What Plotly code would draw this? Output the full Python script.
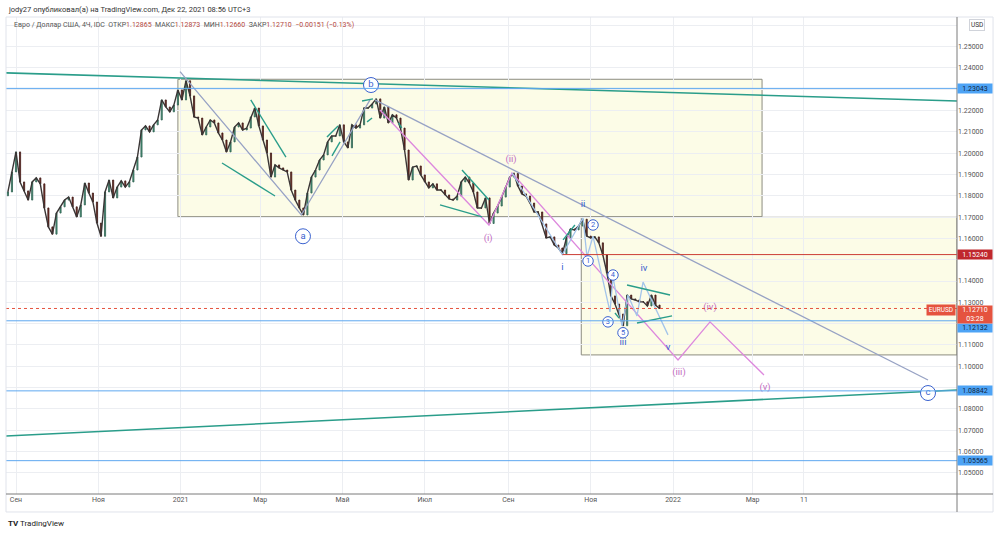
import plotly.graph_objects as go
import pandas as pd

# ---------------- price data (3-day candles) -------------
candle_start = "2020-08-26"
candle_step = "3D"
first_open = 1.1800
closes = [
    1.1818, 1.1912, 1.2006, 1.1865, 1.1823, 1.1780, 1.1865, 1.1884, 1.1856, 1.1743,
    1.1654, 1.1620, 1.1719, 1.1748, 1.1780, 1.1794, 1.1748, 1.1701, 1.1757, 1.1860,
    1.1813, 1.1771, 1.1672, 1.1610, 1.1818, 1.1874, 1.1790, 1.1841, 1.1870, 1.1841,
    1.1865, 1.1921, 1.1982, 1.2109, 1.2128, 1.2100, 1.2133, 1.2156, 1.2250, 1.2217,
    1.2194, 1.2226, 1.2297, 1.2250, 1.2340, 1.2269, 1.2170, 1.2165, 1.2086, 1.2123,
    1.2156, 1.2142, 1.2095, 1.2062, 1.2006, 1.2053, 1.2123, 1.2142, 1.2109, 1.2118,
    1.2170, 1.2212, 1.2128, 1.2062, 1.2001, 1.1888, 1.1945, 1.1931, 1.1921, 1.1912,
    1.1827, 1.1780, 1.1743, 1.1710, 1.1813, 1.1888, 1.1921, 1.1968, 1.1992, 1.2053,
    1.2081, 1.2081, 1.2133, 1.2053, 1.2025, 1.2133, 1.2118, 1.2133, 1.2212, 1.2212,
    1.2231, 1.2255, 1.2165, 1.2217, 1.2142, 1.2180, 1.2165, 1.2118, 1.2015, 1.1874,
    1.1935, 1.1940, 1.1898, 1.1865, 1.1837, 1.1856, 1.1827, 1.1827, 1.1804, 1.1785,
    1.1780, 1.1799, 1.1865, 1.1888, 1.1860, 1.1818, 1.1743, 1.1743, 1.1790, 1.1670,
    1.1719, 1.1752, 1.1794, 1.1841, 1.1888, 1.1905, 1.1846, 1.1809, 1.1799, 1.1766,
    1.1724, 1.1724, 1.1668, 1.1602, 1.1607, 1.1569, 1.1555, 1.1528, 1.1602, 1.1644,
    1.1640, 1.1658, 1.1690, 1.1611, 1.1602, 1.1607, 1.1579, 1.1522, 1.1438, 1.1330,
    1.1292, 1.1245, 1.1190, 1.1334, 1.1316, 1.1311, 1.1302, 1.1302, 1.1283, 1.1334,
    1.1287, 1.1271,
]

# ---------------- axis labels ----------------
x_range = ["2020-08-24 14:00", "2022-07-30 12:00"]
y_range = [1.04, 1.26394]
x_tick_dates = ["2020-09-01", "2020-11-01", "2021-01-01", "2021-03-01", "2021-05-01",
                "2021-07-01", "2021-09-01", "2021-11-01", "2022-01-01", "2022-03-01",
                "2022-04-08"]
x_tick_text = ["Сен", "Ноя", "2021", "Мар", "Май", "Июл", "Сен", "Ноя", "2022", "Мар", "11"]
y_tick_vals = [1.05, 1.06, 1.07, 1.08, 1.09, 1.10, 1.11, 1.12, 1.13, 1.14, 1.15, 1.16,
               1.17, 1.18, 1.19, 1.20, 1.21, 1.22, 1.23, 1.24, 1.25, 1.26]
# tick labels that sit under a price-axis box in the reference are left blank
y_hidden_labels = [1.09, 1.12, 1.15, 1.23, 1.26]

# ---------------- drawings (date / price anchors) ----------------
teal_top_x = ["2020-08-24 14:00", "2022-07-30 12:00"]
teal_top_y = [1.2377, 1.2245]
teal_bot_x = ["2020-08-24 14:00", "2022-07-30 12:00"]
teal_bot_y = [1.0672, 1.0888]

blue_levels = [1.23043, 1.12132, 1.08842, 1.05565]
red_level = 1.15240
red_level_start = "2021-10-11"
last_price = 1.12710

rect_big = dict(x0="2020-12-30", x1="2022-03-08", y0=1.1702, y1=1.2347)
rect_small = dict(x0="2021-10-25", x1="2022-07-30 12:00", y0=1.1053, y1=1.1699)

grey_ab_x = ["2020-12-31 14:00", "2021-03-31 12:00", "2021-05-21 10:00"]
grey_ab_y = [1.2383, 1.1710, 1.2250]
grey_bc_x = ["2021-05-25 02:00", "2022-07-09"]
grey_bc_y = [1.2250, 1.0935]

pink_x = ["2021-05-28 19:00", "2021-08-17 14:00", "2021-09-03 15:00", "2022-01-04 17:00",
          "2022-01-28 10:00", "2022-03-09 10:00"]
pink_y = [1.2203, 1.1663, 1.1907, 1.1029, 1.1208, 1.0959]

sub_x = ["2021-09-03 15:00", "2021-10-11", "2021-10-26 07:00", "2021-10-29 05:00",
         "2021-11-02 17:00", "2021-11-15 07:00", "2021-11-17 12:00", "2021-11-24 05:00",
         "2021-11-28 14:00", "2021-12-05 07:00", "2021-12-09 19:00", "2021-12-28 07:00"]
sub_y = [1.1907, 1.1524, 1.1696, 1.1513, 1.1610, 1.1255, 1.1419, 1.1189,
         1.1334, 1.1236, 1.1395, 1.1147]

teal_segments = [
    (["2021-02-22", "2021-03-20 02:00"], [1.2250, 1.1982]),
    (["2021-01-31 17:00", "2021-03-12"], [1.1954, 1.1799]),
    (["2021-04-19 12:00", "2021-04-27 17:00"], [1.2076, 1.2128]),
    (["2021-04-23 05:00", "2021-04-29 05:00"], [1.1987, 1.2053]),
    (["2021-05-15 12:00", "2021-05-23 14:00"], [1.2245, 1.2255]),
    (["2021-05-19 05:00", "2021-05-22 22:00"], [1.2147, 1.2165]),
    (["2021-06-11 14:00", "2021-06-13 22:00"], [1.2142, 1.2118]),
    (["2021-07-28 14:00", "2021-08-17 14:00"], [1.1921, 1.1780]),
    (["2021-07-12 07:00", "2021-08-12 10:00"], [1.1757, 1.1701]),
    (["2021-11-27 22:00", "2021-12-29 19:00"], [1.1381, 1.1334]),
    (["2021-12-05 07:00", "2021-12-31 07:00"], [1.1203, 1.1236]),
    (["2021-11-19", "2021-11-22"], [1.1250, 1.1226]),
    (["2021-10-11 12:00", "2021-10-20 07:00"], [1.1593, 1.1663]),
]

circ_letters = ["a", "b", "c"]
circ_letters_x = ["2021-04-01 17:00", "2021-05-22 03:00", "2022-07-09"]
circ_letters_y = [1.1610, 1.2320, 1.0874]

circ_digits = ["1", "2", "3", "4", "5"]
circ_digits_x = ["2021-10-30", "2021-11-02 17:00", "2021-11-13 19:00", "2021-11-17 12:00",
                 "2021-11-24 22:00"]
circ_digits_y = [1.1494, 1.1663, 1.1208, 1.1428, 1.1157]

blue_roman = ["i", "ii", "iii", "iv", "v"]
blue_roman_x = ["2021-10-11", "2021-10-26 07:00", "2021-11-24 22:00", "2021-12-10 12:00",
                "2021-12-28 07:00"]
blue_roman_y = [1.1461, 1.1757, 1.1110, 1.1456, 1.1086]

pink_labels = ["(i)", "(ii)", "(iii)", "(iv)", "(v)"]
pink_labels_x = ["2021-08-16 22:00", "2021-09-02 22:00", "2022-01-05 10:00",
                 "2022-01-28 10:00", "2022-03-10 05:00"]
pink_labels_y = [1.1597, 1.1968, 1.0968, 1.1273, 1.0898]

# ---------------- colours ----------------
TEAL = "#2a9d8a"
GREY_LINE = "#97a2c4"
PINK = "#dd88dd"
LBLUE = "#a3c4ea"
BLUE_TXT = "#3a62cf"
HBLUE = "#5ea8f0"
RED = "#cc3d35"
FONT = "Roboto"

dates = pd.date_range(candle_start, periods=len(closes), freq=candle_step)
opens = [first_open] + closes[:-1]
highs = [max(o, c) for o, c in zip(opens, closes)]
lows = [min(o, c) for o, c in zip(opens, closes)]

fig = go.Figure()

shapes = []
for r in (rect_big, rect_small):
    shapes.append(dict(type="rect", xref="x", yref="y", layer="below",
                       fillcolor="rgba(245,245,180,0.32)",
                       line=dict(color="#8c8c80", width=1), **r))
for lv in blue_levels:
    shapes.append(dict(type="line", xref="paper", yref="y", x0=0, x1=1, y0=lv, y1=lv,
                       line=dict(color=HBLUE, width=1)))
shapes.append(dict(type="line", xref="x", yref="y", x0=red_level_start, x1=x_range[1],
                   y0=red_level, y1=red_level, line=dict(color=RED, width=1)))
shapes.append(dict(type="line", xref="paper", yref="y", x0=0, x1=1, y0=last_price,
                   y1=last_price, line=dict(color="#e5533f", width=1, dash="dot")))
shapes.append(dict(type="rect", xref="paper", yref="paper", x0=0, x1=1.0379,
                   y0=-0.0377, y1=1.0, line=dict(color="#e0e3eb", width=1)))
shapes.append(dict(type="line", xref="paper", yref="paper", x0=1, x1=1,
                   y0=-0.0377, y1=1.0, line=dict(color="#7a7a7a", width=1)))
shapes.append(dict(type="line", xref="paper", yref="paper", x0=0, x1=1.0379,
                   y0=0, y1=0, line=dict(color="#7a7a7a", width=1)))


def line_trace(x, y, color, width=1.3):
    fig.add_trace(go.Scatter(x=x, y=y, mode="lines", line=dict(color=color, width=width),
                             hoverinfo="skip", showlegend=False))


line_trace(teal_top_x, teal_top_y, TEAL, 1.6)
line_trace(teal_bot_x, teal_bot_y, TEAL, 1.6)

# dense price path (thin dark line through the closes) + narrow candle bodies
line_trace(list(dates), closes, "#3a3535", 1.4)
fig.add_trace(go.Candlestick(
    x=dates, open=opens, high=highs, low=lows, close=closes,
    increasing=dict(line=dict(color="#2f6150", width=0.8), fillcolor="#4f9f80"),
    decreasing=dict(line=dict(color="#3d1a17", width=0.8), fillcolor="#7e2a22"),
    whiskerwidth=0, showlegend=False, hoverinfo="skip"))

line_trace(grey_ab_x, grey_ab_y, GREY_LINE)
line_trace(grey_bc_x, grey_bc_y, GREY_LINE)
line_trace(pink_x, pink_y, PINK)
line_trace(sub_x, sub_y, LBLUE)
for sx, sy in teal_segments:
    line_trace(sx, sy, TEAL, 1.4)

fig.add_trace(go.Scatter(x=circ_letters_x, y=circ_letters_y, mode="markers+text",
                         text=circ_letters, textposition="middle center",
                         marker=dict(size=15, color="white", line=dict(color=BLUE_TXT, width=1)),
                         textfont=dict(color=BLUE_TXT, size=9.5, family=FONT),
                         hoverinfo="skip", showlegend=False))
fig.add_trace(go.Scatter(x=circ_digits_x, y=circ_digits_y, mode="markers+text",
                         text=circ_digits, textposition="middle center",
                         marker=dict(size=10.5, color="white", line=dict(color=BLUE_TXT, width=1)),
                         textfont=dict(color=BLUE_TXT, size=7.5, family=FONT),
                         hoverinfo="skip", showlegend=False))
fig.add_trace(go.Scatter(x=blue_roman_x, y=blue_roman_y, mode="text", text=blue_roman,
                         textposition="middle center",
                         textfont=dict(color=BLUE_TXT, size=9.5, family=FONT),
                         hoverinfo="skip", showlegend=False))
fig.add_trace(go.Scatter(x=pink_labels_x, y=pink_labels_y, mode="text", text=pink_labels,
                         textposition="middle center",
                         textfont=dict(color="#c36ec3", size=9.5, family=FONT),
                         hoverinfo="skip", showlegend=False))

annotations = []
annotations.append(dict(xref="paper", yref="paper", x=0, y=1.0147, xanchor="left",
                        yanchor="middle", showarrow=False,
                        text="jody27 опубликовал(а) на TradingView.com, Дек 22, 2021 08:56 UTC+3",
                        font=dict(size=7.5, color="#333333", family=FONT)))
vc = "#b4473c"
legend_txt = ("Евро / Доллар США, 4Ч, IDC  ОТКР<span style='color:%s'>1.12865</span>  "
              "МАКС<span style='color:%s'>1.12873</span>  МИН<span style='color:%s'>1.12660</span>  "
              "ЗАКР<span style='color:%s'>1.12710</span>  <span style='color:%s'>−0.00151 (−0.13%%)</span>"
              % (vc, vc, vc, vc, vc))
annotations.append(dict(xref="paper", yref="paper", x=0.0063, y=0.9822, xanchor="left",
                        yanchor="middle", showarrow=False, text=legend_txt,
                        font=dict(size=7, color="#555555", family=FONT)))


def price_box(y, text, bg, fg, yshift=0, height=9):
    annotations.append(dict(xref="paper", yref="y", x=1.0189, y=y, xanchor="center",
                            yanchor="middle", showarrow=False, text=text, bgcolor=bg,
                            width=34, height=height, yshift=yshift, borderpad=0,
                            font=dict(size=7, color=fg, family=FONT)))


price_box(1.23043, "1.23043", "#4da3f5", "#10253d")
price_box(1.08842, "1.08842", "#4da3f5", "#10253d")
price_box(1.05565, "1.05565", "#4da3f5", "#10253d")
price_box(1.12132, "1.12132", "#4da3f5", "#10253d", yshift=-7.5, height=8)
price_box(red_level, "1.15240", "#c0282d", "white")
price_box(last_price, "1.12710<br>03:28", "#e5533f", "white", yshift=-6.5, height=17)
annotations.append(dict(xref="paper", yref="y", x=0.9832, y=last_price, xanchor="center",
                        yanchor="middle", showarrow=False, text="EURUSD", bgcolor="#e5533f",
                        width=28, height=10, borderpad=0, yshift=-1.5,
                        font=dict(size=6.5, color="white", family=FONT)))
annotations.append(dict(xref="paper", yref="paper", x=1.0210, y=0.9822, xanchor="center",
                        yanchor="middle", showarrow=False, text="USD", bgcolor="white",
                        bordercolor="#d0d3da", borderwidth=1, borderpad=1,
                        font=dict(size=6.5, color="#333333", family=FONT)))
annotations.append(dict(xref="paper", yref="paper", x=0, y=-0.0608, xanchor="left",
                        yanchor="middle", showarrow=False,
                        text="<b>TV</b> TradingView",
                        font=dict(size=8, color="#222222", family=FONT)))

y_tick_text = ["" if v in y_hidden_labels else "%.5f" % v for v in y_tick_vals]

fig.update_layout(
    width=1000, height=534,
    margin=dict(l=6, r=43, t=17, b=40),
    paper_bgcolor="white", plot_bgcolor="white",
    shapes=shapes, annotations=annotations,
    showlegend=False, boxgap=0.6,
    xaxis=dict(type="date", range=x_range, rangeslider=dict(visible=False),
               tickvals=x_tick_dates, ticktext=x_tick_text, ticks="",
               showgrid=True, gridcolor="#eceef2", zeroline=False, showline=False,
               tickfont=dict(size=7, color="#555555", family=FONT)),
    yaxis=dict(range=y_range, side="right", tickvals=y_tick_vals,
               ticktext=y_tick_text, ticks="",
               showgrid=True, gridcolor="#eceef2", zeroline=False, showline=False,
               tickfont=dict(size=7, color="#555555", family=FONT)),
)

fig.write_html("out.html")
